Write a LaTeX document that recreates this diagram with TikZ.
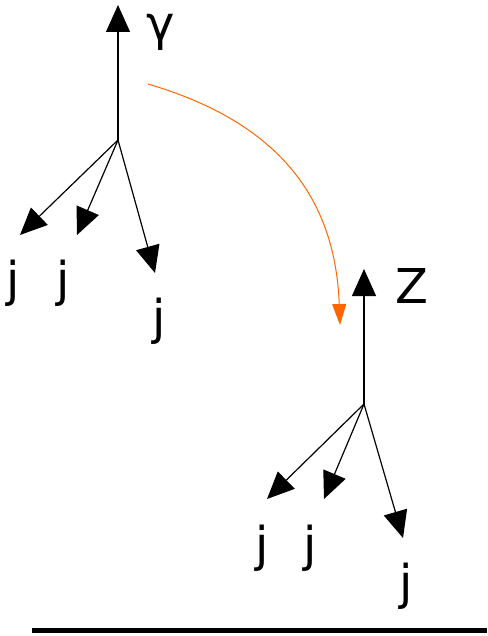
\documentclass[tikz,border=0pt]{standalone}
\usepackage{fontspec}
\setmainfont{DejaVu Sans}
\usetikzlibrary{arrows.meta,positioning}
\definecolor{flow}{RGB}{255,102,0}

\begin{document}
\begin{tikzpicture}[x=1pt, y=-1pt,
    leg/.style={-{Triangle[length=27pt,width=24pt]}, line width=1.2pt},
    lbl/.style={inner sep=0pt, font=\fontsize{48}{56}\selectfont},
    move/.style={-{Triangle[length=21pt,width=14pt]}, draw=flow, fill=flow, line width=1pt}
]
\useasboundingbox (0,0) rectangle (487,636);

% Photon vertex
\coordinate (gv) at (118,140);
\coordinate (gup) at (118,5);
\coordinate (ga) at (20,235);
\coordinate (gb) at (77,235);
\coordinate (gc) at (155,273);
\node[lbl] (gam) at (161,32) {γ};
\node[lbl] (gj1) at (13,283) {j};
\node[lbl] (gj2) at (63,283) {j};
\node[lbl] (gj3) at (159,321) {j};

% Z vertex
\coordinate (zv) at (364,404);
\coordinate (zup) at (364,269);
\coordinate (za) at (267,499);
\coordinate (zb) at (324,499);
\coordinate (zc) at (403,538);
\node[lbl] (zed) at (412,286) {Z};
\node[lbl] (zj1) at (262,548) {j};
\node[lbl] (zj2) at (310,548) {j};
\node[lbl] (zj3) at (406,586) {j};

% Legs
\draw[leg] (gv) -- (gup);
\draw[leg] (gv) -- (ga);
\draw[leg] (gv) -- (gb);
\draw[leg] (gv) -- (gc);
\draw[leg] (zv) -- (zup);
\draw[leg] (zv) -- (za);
\draw[leg] (zv) -- (zb);
\draw[leg] (zv) -- (zc);

% Swap arrow
\coordinate (from) at (148,84);
\coordinate (to) at (340,325);
\draw[move, fill=none] (from) .. controls (270,120) and (335,190) .. (to);

% Base line
\coordinate (bw) at (32,630);
\coordinate (be) at (487,630);
\draw[line width=5pt] (bw) -- (be);
\end{tikzpicture}
\end{document}
